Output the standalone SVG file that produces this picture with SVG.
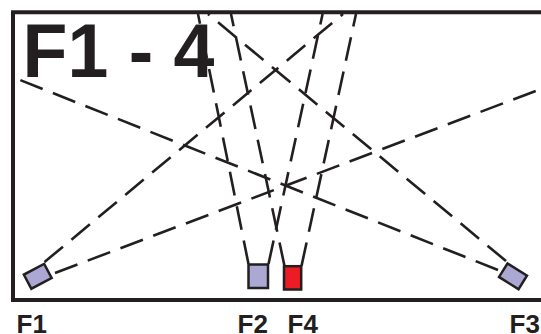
<svg xmlns="http://www.w3.org/2000/svg" width="541" height="334" viewBox="0 0 541 334">
  <style>
    .frame{fill:none;stroke:#231f20;stroke-width:4}
    .beam{fill:none;stroke:#231f20;stroke-width:2.6;stroke-dasharray:24 11}
    .lamp{stroke:#231f20;stroke-width:2.5}
    .off{fill:#aba9d3}
    .on{fill:#ed1c24}
    .label{font-family:"Liberation Sans",Arial,sans-serif;font-weight:bold;font-size:26px;fill:#231f20}
    .title{font-family:"Liberation Sans",Arial,sans-serif;font-weight:bold;font-size:76px;fill:#231f20}
  </style>
  <rect width="541" height="334" fill="#fff"/>
  <path class="frame" d="M541,12.3 H13 V300 H541"/>
  <text class="title" x="22.5" y="77" textLength="192" lengthAdjust="spacingAndGlyphs">F1 - 4</text>
  <g id="connectors">
    <path class="beam" d="M44.5,262 L343,14"/>
    <path class="beam" d="M55,273 L541,89"/>
    <path class="beam" d="M506,261 L208,14"/>
    <path class="beam" d="M498,270 L15,78"/>
    <path class="beam" d="M248.5,264 L198,14"/>
    <path class="beam" d="M268.5,264 L322.6,14"/>
    <path class="beam" d="M284.5,266 L231,14"/>
    <path class="beam" d="M301.5,266 L356,14"/>
  </g>
  <g id="F1">
    <rect class="lamp off" x="-11.5" y="-8" width="23" height="16" transform="translate(37.75,276.3) rotate(-28)"/>
    <text class="label" x="16.5" y="332.5">F1</text>
  </g>
  <g id="F2">
    <rect class="lamp off" x="248.5" y="264.5" width="19.5" height="23.5"/>
    <text class="label" x="237.5" y="332.5">F2</text>
  </g>
  <g id="F4">
    <rect class="lamp on" x="284" y="266.2" width="17.2" height="23.3"/>
    <text class="label" x="287.5" y="332.5">F4</text>
  </g>
  <g id="F3">
    <rect class="lamp off" x="-11.5" y="-8" width="23" height="16" transform="translate(513,276.3) rotate(32)"/>
    <text class="label" x="509.5" y="332.5">F3</text>
  </g>
</svg>
